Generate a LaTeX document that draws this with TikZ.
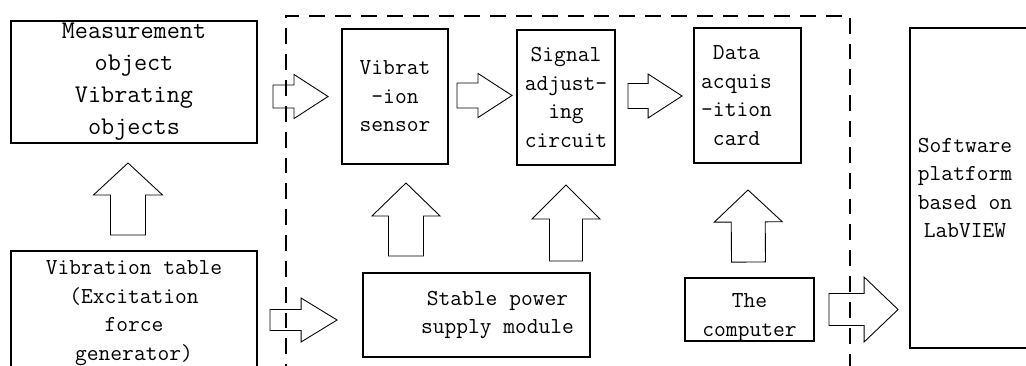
\documentclass[tikz,border=0pt]{standalone}
\usetikzlibrary{calc}
\tikzset{
  blk/.style={draw, line width=1.1pt, inner sep=0pt, align=center,
    font=\ttfamily\fontsize{13}{16.2}\selectfont},
  blktext/.style={align=center, inner sep=0pt,
    font=\ttfamily\fontsize{13}{16.2}\selectfont},
  hollowarrow/.style={draw, line width=0.5pt, line join=miter},
  boundary/.style={line width=1.1pt, dash pattern=on 9pt off 5.7pt}
}
% hollow block arrow: start, tip, shaft half width, head half width, head length
\newcommand{\bigarrow}[5]{%
  \coordinate (ba-s) at #1;
  \coordinate (ba-t) at #2;
  \coordinate (ba-h) at ($(ba-t)!#5!(ba-s)$);
  \draw[hollowarrow] ($(ba-s)!#3!90:(ba-t)$) -- ($(ba-h)!#3!90:(ba-t)$)
    -- ($(ba-h)!#4!90:(ba-t)$) -- (ba-t) -- ($(ba-h)!#4!-90:(ba-t)$)
    -- ($(ba-h)!#3!-90:(ba-t)$) -- ($(ba-s)!#3!-90:(ba-t)$) -- cycle;
}

\begin{document}
\begin{tikzpicture}[x=0.02cm, y=-0.02cm]
  \clip (0,0) rectangle (1026,365);
  % dashed frame round the hardware
  \draw[boundary] (286,380) -- (286,16) -- (850,16) -- (850,380);

  \node[blk, minimum width=4.92cm, minimum height=2.44cm,
    font=\ttfamily\fontsize{14.5}{18.2}\selectfont] (meas) at (134,82)
    {Measurement\\object\\Vibrating\\objects};
  \node[blk, minimum width=4.92cm, minimum height=2.48cm] (vib) at (134,313)
    {Vibration table\\(Excitation\\force\\generator)};
  \node[blk, minimum width=2.12cm, minimum height=2.7cm] (sens) at (395,96.5)
    {Vibrat\\-ion\\sensor};
  \node[blk, minimum width=1.96cm, minimum height=2.7cm] (sig) at (566,97.5)
    {Signal\\adjust-\\ing\\circuit};
  \node[blk, minimum width=2.14cm, minimum height=2.7cm,
    label={[blktext, xshift=-0.22cm]center:Data\\acquis\\-ition\\card}] (data) at (747.5,95.5) {};
  \node[blk, minimum width=4.54cm, minimum height=1.68cm,
    label={[blktext, xshift=0.42cm]center:Stable power\\supply module}] (power) at (476.5,315) {};
  \node[blk, minimum width=2.58cm, minimum height=1.26cm,
    label={[blktext, yshift=-0.16cm]center:The\\computer}] (comp) at (749.5,309.5) {};
  \node[blk, minimum width=2.6cm, minimum height=6.4cm,
    label={[blktext, xshift=-0.2cm]center:Software\\platform\\based on\\LabVIEW}] (soft) at (975,188) {};

  % signal path
  \bigarrow{($(meas.east |- sens.west)+(15,0)$)}{($(sens.west)+(-13,0)$)}{0.23cm}{0.44cm}{0.68cm}
  \bigarrow{($(sens.east)+(8,-1)$)}{($(sens.east -| sig.west)+(-4,-1)$)}{0.25cm}{0.44cm}{0.68cm}
  \bigarrow{($(sig.east)+(12,-1.5)$)}{($(sig.east -| data.west)+(-11,-1.5)$)}{0.25cm}{0.44cm}{0.68cm}
  \bigarrow{($(vib.north)+(-6,-15)$)}{($(meas.south)+(-6,19)$)}{0.35cm}{0.69cm}{0.64cm}
  % power supply
  \bigarrow{($(sens.south |- power.north)+(11,-16)$)}{($(sens.south)+(11,18)$)}{0.35cm}{0.68cm}{0.66cm}
  \bigarrow{($(sig.south |- power.north)+(0,-11)$)}{($(sig.south)+(0,19)$)}{0.33cm}{0.68cm}{0.68cm}
  \bigarrow{($(comp.north)+(-1,-15)$)}{($(data.south)+(0.5,26)$)}{0.34cm}{0.68cm}{0.64cm}
  \bigarrow{($(vib.east |- power.west)+(12,5)$)}{($(power.west)+(-25,5)$)}{0.21cm}{0.44cm}{0.72cm}
  \bigarrow{($(comp.east)+(14,0)$)}{($(comp.east -| soft.west)+(-11,0)$)}{0.32cm}{0.65cm}{0.68cm}
\end{tikzpicture}
\end{document}
